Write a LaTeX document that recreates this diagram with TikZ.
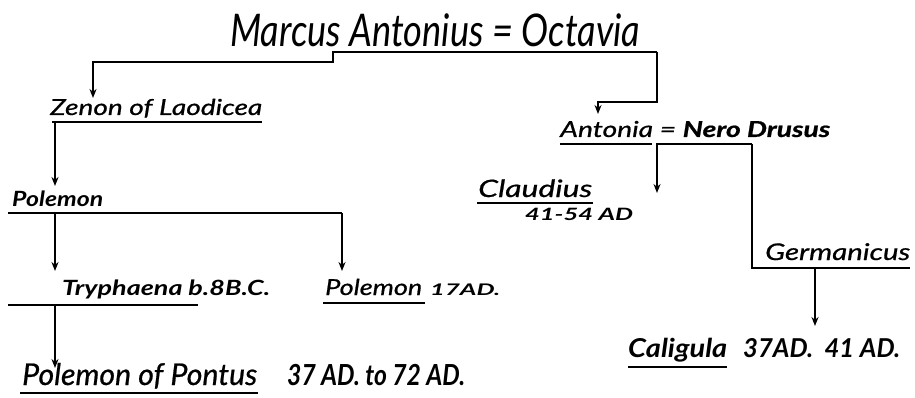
\documentclass[tikz,border=0pt]{standalone}
\usepackage{fontspec}
\setmainfont{Lato}
\newfontfamily\med{Lato}[FakeBold=0.7]
\usetikzlibrary{arrows.meta}
\newcommand\fw[2]{\resizebox{#1}{\height}{#2}}
\begin{document}
\begin{tikzpicture}[x=1pt,y=-1pt,
  ln/.style={line width=2.3pt},
  arr/.style={line width=2.3pt,-{Stealth[length=9pt,width=7pt]}},
  lbl/.style={inner sep=0pt,anchor=base west,font=\itshape},
  mlbl/.style={inner sep=0pt,anchor=base west,font=\med\itshape},
  blbl/.style={inner sep=0pt,anchor=base west,font=\bfseries\itshape}]
\useasboundingbox (0,0) rectangle (915,398);
% labels
\node[lbl] (title) at (230,47) {\fontsize{45}{45}\selectfont\fw{410pt}{Marcus Antonius = Octavia}};
\node[mlbl] (zen) at (50,115) {\fontsize{22}{22}\selectfont\fw{212pt}{Zenon of Laodicea}};
\node[blbl] (pol1) at (12,207) {\fontsize{21}{21}\selectfont\fw{91pt}{Polemon}};
\node[blbl] (try) at (62,295) {\fontsize{21}{21}\selectfont\fw{208pt}{Tryphaena b.8B.C.}};
\node[mlbl] (pol2) at (325,295) {\fontsize{22}{22}\selectfont\fw{97pt}{Polemon}};
\node[blbl] (pol2d) at (430,295) {\fontsize{16}{16}\selectfont\fw{70pt}{17AD.}};
\node[mlbl] (pont) at (22,385) {\fontsize{30}{30}\selectfont\fw{235pt}{Polemon of Pontus}};
\node[blbl] (pontd) at (287,385) {\fontsize{29}{29}\selectfont\fw{178pt}{37 AD. to 72 AD.}};
\node[mlbl] (anton) at (560,137) {\fontsize{22}{22}\selectfont\fw{270pt}{Antonia = \bfseries Nero Drusus}};
\node[mlbl] (claud) at (478,197) {\fontsize{24}{24}\selectfont\fw{114pt}{Claudius}};
\node[blbl] (claudd) at (525,220) {\fontsize{17}{17}\selectfont\fw{108pt}{41-54 AD}};
\node[mlbl] (germ) at (765,260) {\fontsize{23}{23}\selectfont\fw{145pt}{Germanicus}};
\node[blbl] (cal) at (628,357) {\fontsize{26}{26}\selectfont\fw{99pt}{Caligula}};
\node[blbl] (cald) at (743,357) {\fontsize{26}{26}\selectfont\fw{157pt}{37AD.\ \ 41 AD.}};
% junction coordinates
\coordinate (tA) at (657,52);
\coordinate (tB) at (333,52);
\coordinate (tC) at (333,62);
\coordinate (tD) at (93,62);
\coordinate (tDt) at (93,98);
\coordinate (tE) at (657,102);
\coordinate (tF) at (598,102);
\coordinate (tFt) at (598,114);
% title connectors
\draw[arr] (tA) -- (tB) -- (tC) -- (tD) -- (tDt);
\draw[arr] (tA) -- (tE) -- (tF) -- (tFt);
% Zenon
\coordinate (zL) at (52,122);
\coordinate (zR) at (262,122);
\coordinate (zA) at (55,122);
\coordinate (zAt) at (55,186);
\draw[ln] (zL) -- (zR);
\draw[arr] (zA) -- (zAt);
% Polemon
\coordinate (pL) at (8,213);
\coordinate (pR) at (342,213);
\coordinate (pA) at (55,213);
\coordinate (pAt) at (55,271);
\coordinate (pBt) at (342,271);
\draw[ln] (pL) -- (pR);
\draw[arr] (pA) -- (pAt);
\draw[arr] (pR) -- (pBt);
% Tryphaena
\coordinate (yL) at (8,305);
\coordinate (yR) at (198,305);
\coordinate (yA) at (55,305);
\coordinate (yAt) at (55,368);
\draw[ln] (yL) -- (yR);
\draw[arr] (yA) -- (yAt);
% Polemon 17 AD
\draw[ln] (323,303) coordinate (p2L) -- (425,303) coordinate (p2R);
% Pontus
\draw[ln] (20,393) coordinate (poL) -- (258,393) coordinate (poR);
% Antonia
\draw[ln] (560,144) coordinate (aL) -- (652,144) coordinate (aR);
\coordinate (nA) at (657,144);
\coordinate (nB) at (752,144);
\coordinate (nAt) at (657,193);
\coordinate (gC) at (752,268);
\coordinate (gR) at (910,268);
\draw[arr] (nB) -- (nA) -- (nAt);
\draw[ln] (nB) -- (gC) -- (gR);
% Germanicus to Caligula
\coordinate (gA) at (815,268);
\coordinate (gAt) at (815,326);
\draw[arr] (gA) -- (gAt);
% Claudius
\draw[ln] (477,203) coordinate (cL) -- (593,203) coordinate (cR);
% Caligula
\draw[ln] (628,367) coordinate (kL) -- (727,367) coordinate (kR);
\end{tikzpicture}
\end{document}
